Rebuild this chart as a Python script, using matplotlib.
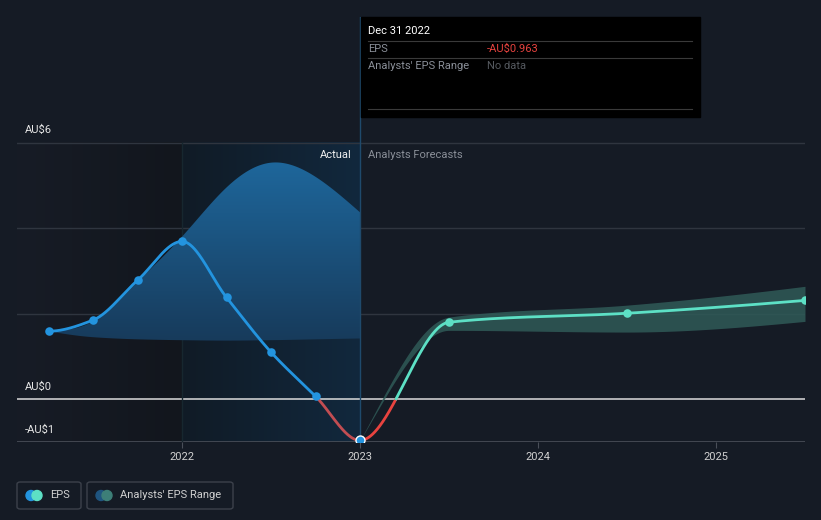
import matplotlib.pyplot as plt
import numpy as np
from matplotlib.patches import Rectangle, FancyBboxPatch, Circle
from matplotlib.colors import LinearSegmentedColormap

plt.rcParams['font.family'] = ['Roboto', 'DejaVu Sans']

# --- data ---
actual_x = [2021.25, 2021.5, 2021.75, 2022.0, 2022.25, 2022.5, 2022.75, 2023.0]
actual_eps = [1.59, 1.85, 2.78, 3.69, 2.38, 1.10, 0.07, -0.963]
past_upper = [1.59, 1.82, 2.74, 3.80, 4.95, 5.53, 5.20, 4.37]
past_lower = [1.59, 1.45, 1.40, 1.38, 1.37, 1.38, 1.40, 1.42]

fc_x = [2023.0, 2023.5, 2024.5, 2025.5]
fc_eps = [-0.963, 1.80, 2.01, 2.31]
fc_upper = [-0.963, 1.92, 2.20, 2.64]
fc_lower = [-0.963, 1.61, 1.57, 1.82]

y_ticks = [6, 0, -1]
y_labels = ['AU$6', 'AU$0', '-AU$1']
x_ticks = [2022, 2023, 2024, 2025]

BG = '#151b25'
BLUE = '#2394df'
TEAL = '#5de0c5'
RED = '#e8433f'


def pchip(x, y, xs):
    x = np.asarray(x, float)
    y = np.asarray(y, float)
    h = np.diff(x)
    d = np.diff(y) / h
    n = len(x)
    m = np.zeros(n)
    for k in range(1, n - 1):
        if d[k - 1] * d[k] > 0:
            w1 = 2 * h[k] + h[k - 1]
            w2 = h[k] + 2 * h[k - 1]
            m[k] = (w1 + w2) / (w1 / d[k - 1] + w2 / d[k])

    def end(h0, h1, d0, d1):
        s = ((2 * h0 + h1) * d0 - h0 * d1) / (h0 + h1)
        if np.sign(s) != np.sign(d0):
            return 0.0
        if np.sign(d0) != np.sign(d1) and abs(s) > 3 * abs(d0):
            return 3 * d0
        return s
    m[0] = end(h[0], h[1], d[0], d[1])
    m[-1] = end(h[-1], h[-2], d[-1], d[-2])
    return hermite(x, y, m, xs)


def hermite(x, y, m, xs):
    h = np.diff(x)
    idx = np.clip(np.searchsorted(x, xs) - 1, 0, len(x) - 2)
    t = (xs - x[idx]) / h[idx]
    h00 = 2 * t**3 - 3 * t**2 + 1
    h10 = t**3 - 2 * t**2 + t
    h01 = -2 * t**3 + 3 * t**2
    h11 = t**3 - t**2
    return (h00 * y[idx] + h10 * h[idx] * m[idx] + h01 * y[idx + 1]
            + h11 * h[idx] * m[idx + 1])


def natural_spline(x, y, xs):
    # natural cubic spline, written as hermite slopes
    x = np.asarray(x, float)
    y = np.asarray(y, float)
    n = len(x)
    h = np.diff(x)
    A = np.zeros((n, n))
    b = np.zeros(n)
    A[0, 0], A[0, 1] = 2, 1
    b[0] = 3 * (y[1] - y[0]) / h[0]
    A[-1, -2], A[-1, -1] = 1, 2
    b[-1] = 3 * (y[-1] - y[-2]) / h[-1]
    for k in range(1, n - 1):
        A[k, k - 1] = 1 / h[k - 1]
        A[k, k] = 2 * (1 / h[k - 1] + 1 / h[k])
        A[k, k + 1] = 1 / h[k]
        b[k] = 3 * ((y[k] - y[k - 1]) / h[k - 1] ** 2 + (y[k + 1] - y[k]) / h[k] ** 2)
    m = np.linalg.solve(A, b)
    return hermite(x, y, m, xs)


W, H = 821, 520
fig = plt.figure(figsize=(W / 100, H / 100), dpi=100, facecolor=BG)

# axes from pixel 17..805 horizontally, 17..442 vertically
ax = fig.add_axes([17 / W, (H - 442) / H, (805 - 17) / W, (442 - 17) / H])
ax.set_facecolor(BG)
x0, x1 = 2022 - 165 / 178, 2025.5
y0, y1 = -1, (399 - 17) / 42.75
ax.set_xlim(x0, x1)
ax.set_ylim(y0, y1)
for s in ax.spines.values():
    s.set_visible(False)

# background shading
left_cmap = LinearSegmentedColormap.from_list('l', ['#171c26', '#12161d'])
ax.imshow(np.linspace(0, 1, 256)[None, :], cmap=left_cmap, aspect='auto',
          extent=[x0, 2022, -1, 6], zorder=0)
mid_cmap = LinearSegmentedColormap.from_list('m', ['#101b26', '#12283d'])
ax.imshow(np.linspace(0, 1, 256)[None, :], cmap=mid_cmap, aspect='auto',
          extent=[2022, 2023, -1, 6], zorder=0)

# gridlines
for g in [2, 4, 6]:
    ax.axhline(g, color='#2f353f', lw=1, zorder=1)
ax.axhline(0, color='#dcdcdc', lw=1.1, zorder=1)
ax.axhline(-1, color='#4a4f59', lw=1.2, zorder=1)
ax.plot([2022, 2022], [-1, 6], color='#17272f', lw=1, zorder=1)
ax.plot([2023, 2023], [-1, y1], color='#1f4a6c', lw=1, zorder=5)

# past band with vertical gradient
xs_p = np.linspace(actual_x[0], actual_x[-1], 400)
up_p = natural_spline(actual_x, past_upper, xs_p)
lo_p = pchip(actual_x, past_lower, xs_p)
poly = ax.fill_between(xs_p, lo_p, up_p, color='none', lw=0)
band_cmap = LinearSegmentedColormap.from_list('b', ['#173a5a', '#1e679c'])
img = ax.imshow(np.linspace(0, 1, 256)[:, None], cmap=band_cmap, origin='lower',
                aspect='auto', extent=[actual_x[0], actual_x[-1], 1.3, 5.6], zorder=2)
img.set_clip_path(poly.get_paths()[0], transform=ax.transData)

# forecast band
xs_f = np.linspace(fc_x[0], fc_x[-1], 400)
ax.fill_between(xs_f, pchip(fc_x, fc_lower, xs_f), pchip(fc_x, fc_upper, xs_f),
                color='#2f5a57', alpha=0.85, lw=0, zorder=2)

# EPS line
all_x = actual_x + fc_x[1:]
all_y = actual_eps + fc_eps[1:]
xs = np.linspace(all_x[0], all_x[-1], 3000)
ys = pchip(all_x, all_y, xs)
act = xs <= 2023.0
pos = ys >= 0
ax.plot(xs, np.where(act & pos, ys, np.nan), color=BLUE, lw=2, zorder=3,
        solid_capstyle='round')
ax.plot(xs, np.where(act & ~pos, ys, np.nan), color='#c24d52', lw=2, zorder=3)
ax.plot(xs, np.where(~act & ~pos, ys, np.nan), color=RED, lw=2, zorder=3)
ax.plot(xs, np.where(~act & pos, ys, np.nan), color=TEAL, lw=2, zorder=3)

ax.scatter(actual_x[:-1], actual_eps[:-1], s=38, color=BLUE, zorder=4, lw=0)
ax.scatter(actual_x[-1:], actual_eps[-1:], s=42, color=BLUE, edgecolor='white',
           lw=1, zorder=6)
ax.scatter(fc_x[1:], fc_eps[1:], s=38, color=TEAL, zorder=4, lw=0)

# ticks
ax.set_yticks([])
ax.set_xticks(x_ticks)
ax.set_xticklabels([str(t) for t in x_ticks], color='#d0d0d0', fontsize=8)
ax.tick_params(axis='x', length=4, color='#4a4f59', pad=3)
for v, lab in zip(y_ticks, y_labels):
    ax.text(x0 + 8 / 178, v + 0.17, lab, color='#e6e6e6', fontsize=8,
            va='bottom', ha='left', zorder=6)

ax.text(2023 - 8 / 178, 5.7, 'Actual', color='#f0f0f0', fontsize=8,
        ha='right', va='center', zorder=6)
ax.text(2023 + 8 / 178, 5.7, 'Analysts Forecasts', color='#8a8f98', fontsize=8,
        ha='left', va='center', zorder=6)


def fx(px):
    return px / W


def fy(py):
    return 1 - py / H


# tooltip
fig.add_artist(Rectangle((fx(361), fy(117)), fx(700) - fx(361), fy(17) - fy(117),
                         transform=fig.transFigure, color='black', zorder=10))
for ly in [41, 58, 109]:
    fig.add_artist(plt.Line2D([fx(368), fx(692)], [fy(ly), fy(ly)],
                              transform=fig.transFigure, color='#3a3a3a', lw=0.8, zorder=11))
fig.text(fx(368), fy(31), 'Dec 31 2022', color='white', fontsize=8, va='center', zorder=12)
fig.text(fx(368), fy(49), 'EPS', color='#8a8f98', fontsize=8, va='center', zorder=12)
fig.text(fx(487), fy(49), '-AU$0.963', color=RED, fontsize=8, va='center', zorder=12)
fig.text(fx(368), fy(66), "Analysts' EPS Range", color='#8a8f98', fontsize=8,
         va='center', zorder=12)
fig.text(fx(487), fy(66), 'No data', color='#55595f', fontsize=8, va='center', zorder=12)

# legend
for (lx0, lx1) in [(17, 81), (87, 233)]:
    fig.add_artist(FancyBboxPatch((fx(lx0), fy(509)), fx(lx1) - fx(lx0), fy(482) - fy(509),
                                  boxstyle='round,pad=0,rounding_size=0.004',
                                  transform=fig.transFigure, fc='none',
                                  ec='#3c414b', lw=1, zorder=10))
ax2 = fig.add_axes([0, 0, 1, 1], zorder=11)
ax2.set_xlim(0, W)
ax2.set_ylim(H, 0)
ax2.axis('off')
ax2.patch.set_alpha(0)
for cx, col in [(31, BLUE), (37, TEAL), (101, '#1f5580'), (107, '#3d7f78')]:
    ax2.add_patch(Circle((cx, 495.5), 5, color=col))
fig.text(fx(50), fy(495.5), 'EPS', color='#d0d0d0', fontsize=8, va='center', zorder=12)
fig.text(fx(120), fy(495.5), "Analysts' EPS Range", color='#d0d0d0', fontsize=8,
         va='center', zorder=12)

fig.savefig('out.png', dpi=100, facecolor=BG)
